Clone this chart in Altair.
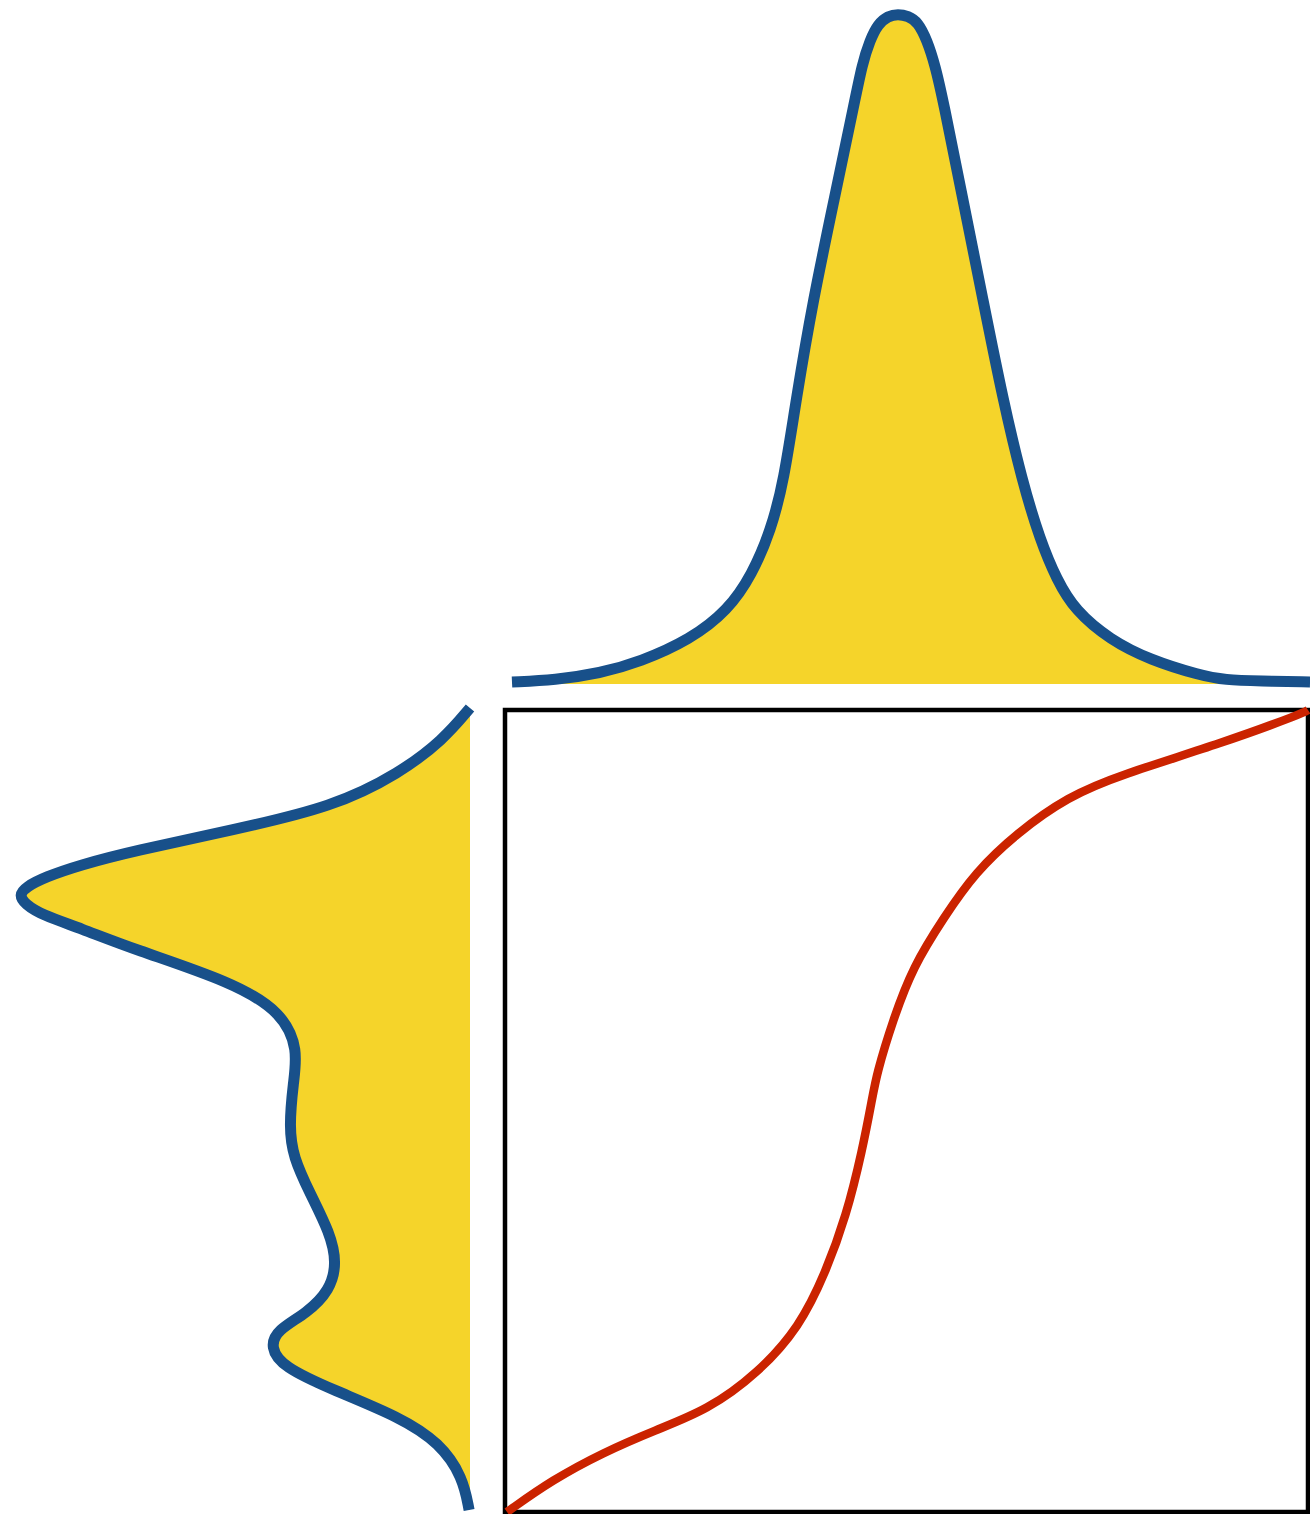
import altair as alt
import pandas as pd

# ---- data -------------------------------------------------------------
# Input density (top panel): x in units of the mapping's input axis
top_x = [0.0087, 0.0623, 0.1183, 0.1681, 0.2304, 0.2777, 0.3076, 0.3313, 0.3474,
         0.3624, 0.3836, 0.4097, 0.4359, 0.4446, 0.4545, 0.4645, 0.4770, 0.4894,
         0.5019, 0.5143, 0.5255, 0.5355, 0.5455, 0.5704, 0.5953, 0.6202, 0.6438,
         0.6663, 0.6874, 0.7098, 0.7534, 0.8032, 0.8655, 0.8966, 0.9402, 1.0025]
top_density = [0.003, 0.006, 0.016, 0.033, 0.066, 0.110, 0.163, 0.230, 0.304,
               0.424, 0.573, 0.722, 0.872, 0.924, 0.961, 0.985, 0.997, 1.000,
               0.997, 0.988, 0.961, 0.924, 0.872, 0.722, 0.573, 0.424, 0.304,
               0.215, 0.155, 0.110, 0.066, 0.036, 0.013, 0.006, 0.0045, 0.003]

# Output density (left panel): y in units of the mapping's output axis
left_y = [1.0025, 0.9626, 0.9214, 0.8791, 0.8504, 0.8242, 0.8067, 0.7918, 0.7793,
          0.7693, 0.7581, 0.7444, 0.7282, 0.7020, 0.6608, 0.6222, 0.5761, 0.5349,
          0.4800, 0.4426, 0.3978, 0.3479, 0.3105, 0.2768, 0.2481, 0.2269, 0.2057,
          0.1808, 0.1521, 0.1185, 0.0860, 0.0436, 0.0025]
left_density = [0.000, 0.060, 0.156, 0.304, 0.527, 0.749, 0.867, 0.944, 0.987,
                1.002, 0.989, 0.951, 0.867, 0.749, 0.527, 0.416, 0.382, 0.393,
                0.402, 0.393, 0.356, 0.311, 0.296, 0.311, 0.362, 0.429, 0.444,
                0.416, 0.304, 0.156, 0.067, 0.016, 0.002]

# Transfer function y = g(x)
curve_x = [0.0025, 0.059, 0.122, 0.187, 0.252, 0.315, 0.367, 0.399, 0.425, 0.445,
           0.457, 0.463, 0.483, 0.508, 0.547, 0.585, 0.638, 0.701, 0.766, 0.894,
           0.994, 1.000]
curve_y = [0.000, 0.040, 0.074, 0.102, 0.127, 0.173, 0.231, 0.298, 0.369, 0.451,
           0.514, 0.547, 0.613, 0.680, 0.742, 0.797, 0.847, 0.892, 0.919, 0.959,
           0.996, 1.000]

YELLOW = "#F5D42A"
BLUE = "#18508A"
RED = "#CB2300"

# ---- layout -----------------------------------------------------------
W, H = 1310, 1514
# pixel positions where each panel's value 0 and value 1 fall
MAP_X = (505, 1308)     # mapping input axis (shared by the top panel)
MAP_Y = (1512, 710)     # mapping output axis (shared by the left panel)
TOP_D = (684, 14)       # top density axis
LEFT_D = (470, 20)      # left density axis (grows leftward)


def x_scale(p0, p1):
    lo, hi = (0 - p0) / (p1 - p0), (W - p0) / (p1 - p0)
    if lo < hi:
        return alt.Scale(domain=[lo, hi], nice=False, zero=False)
    return alt.Scale(domain=[hi, lo], nice=False, zero=False, reverse=True)


def y_scale(p0, p1):
    bottom, top = (H - p0) / (p1 - p0), (0 - p0) / (p1 - p0)
    if bottom < top:
        return alt.Scale(domain=[bottom, top], nice=False, zero=False)
    return alt.Scale(domain=[top, bottom], nice=False, zero=False, reverse=True)


sx_map, sy_map = x_scale(*MAP_X), y_scale(*MAP_Y)
sy_top, sx_left = y_scale(*TOP_D), x_scale(*LEFT_D)

top_df = pd.DataFrame({"x": top_x, "density": top_density, "base": 0.0})
left_df = pd.DataFrame({"y": left_y, "density": left_density, "base": 0.0})
curve_df = pd.DataFrame({"x": curve_x, "y": curve_y})
frame_df = pd.DataFrame({"x0": [0.0], "x1": [1.0], "y0": [0.0], "y1": [1.0]})

# ---- marks ------------------------------------------------------------
top_area = alt.Chart(top_df).mark_area(color=YELLOW, interpolate="basis").encode(
    x=alt.X("x:Q", scale=sx_map, axis=None),
    y=alt.Y("density:Q", scale=sy_top, axis=None),
    y2="base:Q",
)
top_line = alt.Chart(top_df).mark_line(color=BLUE, strokeWidth=11,
                                       interpolate="basis").encode(
    x=alt.X("x:Q", scale=sx_map, axis=None),
    y=alt.Y("density:Q", scale=sy_top, axis=None),
)

left_area = alt.Chart(left_df).mark_area(color=YELLOW, orient="horizontal",
                                         interpolate="basis").encode(
    x=alt.X("density:Q", scale=sx_left, axis=None),
    x2="base:Q",
    y=alt.Y("y:Q", scale=sy_map, axis=None),
)
left_line = alt.Chart(left_df).mark_line(color=BLUE, strokeWidth=11,
                                         interpolate="basis").encode(
    x=alt.X("density:Q", scale=sx_left, axis=None),
    y=alt.Y("y:Q", scale=sy_map, axis=None),
    order=alt.Order("y:Q"),
)

frame = alt.Chart(frame_df).mark_rect(fill="transparent", stroke="black",
                                      strokeWidth=4.5).encode(
    x=alt.X("x0:Q", scale=sx_map, axis=None),
    x2="x1:Q",
    y=alt.Y("y0:Q", scale=sy_map, axis=None),
    y2="y1:Q",
)
transfer = alt.Chart(curve_df).mark_line(color=RED, strokeWidth=8.5,
                                         interpolate="basis").encode(
    x=alt.X("x:Q", scale=sx_map, axis=None),
    y=alt.Y("y:Q", scale=sy_map, axis=None),
)

chart = alt.layer(
    top_area, top_line, left_area, left_line, frame, transfer
).resolve_scale(
    x="independent", y="independent"
).properties(
    width=W, height=H,
    autosize=alt.AutoSizeParams(type="none"),
    padding=0,
    background="white",
).configure_view(stroke=None)

chart.save("out.html", embed_options={"renderer": "svg", "actions": False})
